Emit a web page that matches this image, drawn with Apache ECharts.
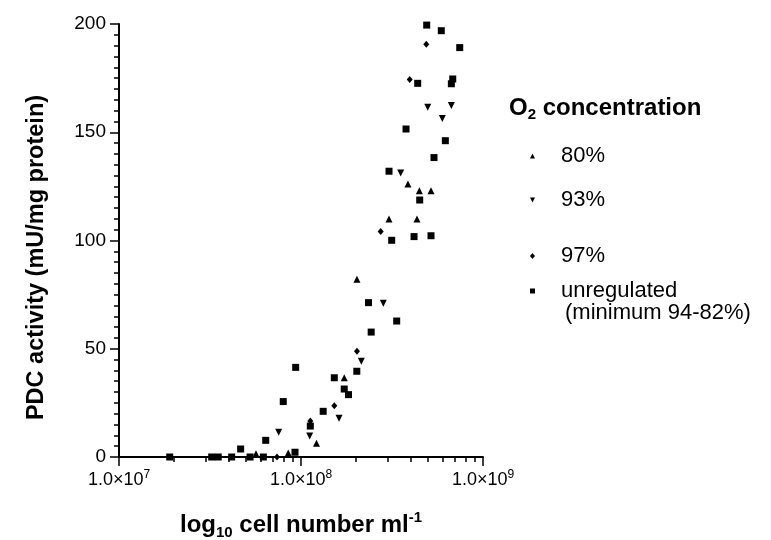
<!DOCTYPE html>
<html><head><meta charset="utf-8">
<script src="https://cdn.jsdelivr.net/npm/echarts@6/dist/echarts.min.js"></script>
<style>html,body{margin:0;padding:0;background:#fff}#c{width:771px;height:540px}</style>
</head><body><div id="c"></div>
<script>
const FONT = '"Liberation Sans", Arial, Helvetica, sans-serif';

// ---- data (cell number ml^-1, PDC activity mU/mg protein) ----
const seriesNames = ['80%', '93%', '97%', 'unregulated'];

const cells80 = [5.66e7, 8.51e7, 1.217e8, 1.728e8, 2.03e8, 3.045e8, 3.87e8, 4.34e8, 4.47e8, 5.18e8];
const pdc80   = [1.5,    1.9,    6.3,     36.6,    82.1,   109.9,   126.1,  109.9,  123.0,  123.0];

const cells93 = [7.54e7, 1.116e8, 1.618e8, 2.145e8, 2.833e8, 3.53e8, 4.97e8, 5.975e8, 6.70e8];
const pdc93   = [11.4,   9.7,     17.9,    44.2,    71.0,    131.2,  161.5,  156.4,   162.3];

const cells97 = [7.38e7, 1.125e8, 1.524e8, 2.03e8, 2.74e8, 3.957e8, 4.88e8];
const pdc97   = [0,      16.6,    23.7,    48.8,   104.1,  174.4,   190.6];

const cellsUnreg = [1.9e7, 3.23e7, 3.51e7, 4.16e7, 4.66e7, 5.25e7, 6.21e7, 6.40e7, 7.99e7, 9.27e7,
                    9.35e7, 1.125e8, 1.324e8, 1.524e8, 1.728e8, 1.824e8, 2.026e8, 2.349e8, 2.43e8, 3.045e8,
                    3.15e8, 3.356e8, 3.776e8, 4.18e8, 4.378e8, 4.49e8, 4.906e8, 5.07e8, 5.18e8, 5.38e8,
                    5.90e8, 6.21e8, 6.70e8, 6.82e8, 7.45e8];
const pdcUnreg   = [0, 0, 0, 0, 3.7, 0, 0, 7.7, 25.6, 2.2,
                    41.4, 14.3, 21.1, 36.6, 31.4, 28.8, 39.6, 71.3, 57.7, 132.0,
                    100.1, 62.8, 151.5, 101.8, 172.6, 118.7, 199.5, 200.3, 102.2, 138.3,
                    196.9, 146.1, 172.4, 174.6, 189.1];

// axis ticks
const xMin = 1e7, xMax = 1e9;
const yMin = 0, yMax = 200, yStep = 50;
const minorMultipliers = [2, 3, 4, 5, 6, 7, 8, 9];
const minorDecades = [7, 8];

const zip = (xs, ys) => xs.map((x, i) => [x, ys[i]]);
const minorLogTicks = [];
minorDecades.forEach(d => minorMultipliers.forEach(m => minorLogTicks.push(Math.log10(m) + d)));

const DOWN = 'path://M0,0L10,0L5,10Z';

const chart = echarts.init(document.getElementById('c'), null, {renderer: 'canvas'});
const axisLine = {show: true, lineStyle: {color: '#000', width: 2}};

chart.setOption({
  backgroundColor: '#fff',
  animation: false,
  textStyle: {fontFamily: FONT, color: '#000'},
  grid: {left: 119, right: 288, top: 24, bottom: 83, containLabel: false, outerBoundsMode: 'none'},
  title: {
    left: 509, top: 95, padding: 0,
    text: '{b|O}{s|2}{b| concentration}',
    textStyle: {
      rich: {
        b: {fontFamily: FONT, fontSize: 24, fontWeight: 'bold', color: '#000', lineHeight: 27},
        s: {fontFamily: FONT, fontSize: 15, fontWeight: 'bold', color: '#000', verticalAlign: 'bottom', lineHeight: 14}
      }
    }
  },
  legend: seriesNames.map((n, i) => ({
    data: [{name: n, icon: ['triangle', DOWN, 'diamond', 'rect'][i]}],
    orient: 'vertical',
    left: 530,
    top: [145, 189, 245, 280][i],
    padding: 0,
    itemWidth: [5, 5, 5, 5][i],
    itemHeight: [5, 5, 6, 5][i],
    selectedMode: false,
    formatter: name => '{t|' + name + '}',
    textStyle: {
      fontFamily: FONT, fontSize: 22, color: '#000',
      rich: {t: {fontFamily: FONT, fontSize: 22, color: '#000', padding: [0, 0, 0, 21]}}
    },
    itemStyle: {color: '#000'}
  })),
  graphic: [{
    type: 'text', left: 565, top: 302, z: 10,
    style: {text: '(minimum 94-82%)', font: '22px ' + FONT, fill: '#000'}
  }],
  xAxis: [{
    type: 'log', logBase: 10, min: xMin, max: xMax,
    position: 'bottom',
    axisLine: axisLine,
    axisTick: {show: true, length: 9, inside: false, lineStyle: {color: '#000', width: 1.5}},
    splitLine: {show: false},
    axisLabel: {
      margin: 12, color: '#000',
      formatter: v => '{b|1.0×10}{s|' + Math.round(Math.log10(v)) + '}',
      rich: {
        b: {fontFamily: FONT, fontSize: 18, color: '#000', lineHeight: 22},
        s: {fontFamily: FONT, fontSize: 12, color: '#000', verticalAlign: 'top', lineHeight: 12}
      }
    },
    name: '{b|log}{sub|10}{b| cell number ml}{sup|-1}',
    nameLocation: 'middle', nameGap: 53,
    nameTextStyle: {
      rich: {
        b: {fontFamily: FONT, fontSize: 24, fontWeight: 'bold', color: '#000', lineHeight: 30},
        sub: {fontFamily: FONT, fontSize: 15, fontWeight: 'bold', color: '#000', verticalAlign: 'bottom', lineHeight: 16},
        sup: {fontFamily: FONT, fontSize: 15, fontWeight: 'bold', color: '#000', verticalAlign: 'top', lineHeight: 16}
      }
    }
  }, {
    type: 'value', min: 7, max: 9, position: 'bottom',
    axisLine: {show: false},
    axisLabel: {show: false},
    splitLine: {show: false},
    axisTick: {show: true, length: 5, inside: false, customValues: minorLogTicks, lineStyle: {color: '#000', width: 1.5}}
  }],
  yAxis: {
    type: 'value', min: yMin, max: yMax, interval: yStep,
    axisLine: axisLine,
    axisTick: {show: true, length: 9, lineStyle: {color: '#000', width: 1.5}},
    minorTick: {show: true, splitNumber: 10, length: 5, lineStyle: {color: '#000', width: 1.5}},
    splitLine: {show: false},
    axisLabel: {margin: 13, fontFamily: FONT, fontSize: 19, color: '#000'},
    name: 'PDC activity (mU/mg protein)',
    nameLocation: 'middle', nameGap: 70, nameRotate: 90,
    nameTextStyle: {fontFamily: FONT, fontSize: 23.5, fontWeight: 'bold', color: '#000', padding: [0, 34, 0, 0]}
  },
  series: [
    {name: seriesNames[0], type: 'scatter', symbol: 'triangle', symbolSize: 7, itemStyle: {color: '#000', opacity: 1}, data: zip(cells80, pdc80)},
    {name: seriesNames[1], type: 'scatter', symbol: DOWN, symbolSize: 7, itemStyle: {color: '#000', opacity: 1}, data: zip(cells93, pdc93)},
    {name: seriesNames[2], type: 'scatter', symbol: 'diamond', symbolSize: [6, 7], itemStyle: {color: '#000', opacity: 1}, data: zip(cells97, pdc97)},
    {name: seriesNames[3], type: 'scatter', symbol: 'rect', symbolSize: 7, itemStyle: {color: '#000', opacity: 1}, data: zip(cellsUnreg, pdcUnreg)}
  ]
});
</script>
</body></html>
